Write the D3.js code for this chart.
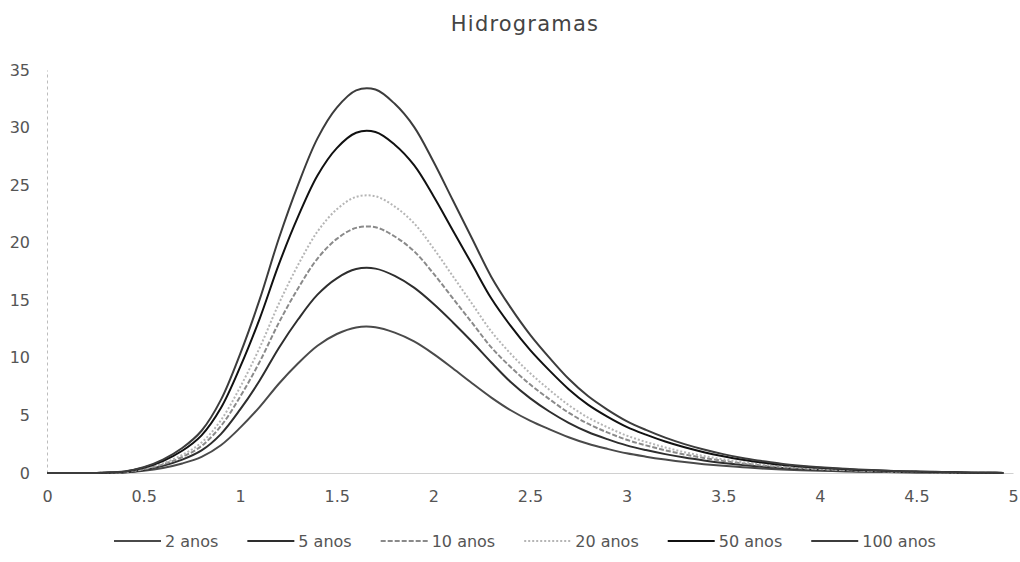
<!DOCTYPE html>
<html>
<head>
<meta charset="utf-8">
<script src="https://cdn.jsdelivr.net/npm/d3@7"></script>
<style>
  html, body { margin: 0; padding: 0; background: #fff; }
  svg { display: block; }
</style>
</head>
<body>
<svg id="chart" width="1020" height="562"></svg>
<script>
// ---- data ----
const titleText = "Hidrogramas";
const seriesNames = ["2 anos", "5 anos", "10 anos", "20 anos", "50 anos", "100 anos"];
const times = [0,0.1,0.2,0.3,0.4,0.5,0.6,0.7,0.8,0.9,1.0,1.1,1.2,1.3,1.4,1.5,1.6,1.7,1.8,1.9,
  2.0,2.1,2.2,2.3,2.4,2.5,2.6,2.7,2.8,2.9,3.0,3.1,3.2,3.3,3.4,3.5,3.6,3.7,3.8,3.9,
  4.0,4.1,4.2,4.3,4.4,4.5,4.6,4.7,4.8,4.9,4.95];
const q2 = [0,0,0,0.01,0.05,0.19,0.44,0.83,1.40,2.41,3.94,5.72,7.75,9.53,11.05,12.07,12.64,12.66,12.19,11.43,
  10.35,9.10,7.80,6.55,5.45,4.55,3.80,3.11,2.54,2.10,1.71,1.42,1.17,0.95,0.77,0.62,0.50,0.39,0.30,0.24,
  0.19,0.15,0.11,0.09,0.06,0.05,0.04,0.03,0.01,0.01,0.01];
const q5 = [0,0,0,0.02,0.07,0.27,0.62,1.16,1.96,3.38,5.52,8.01,10.86,13.35,15.49,16.91,17.71,17.75,17.12,16.10,
  14.70,13.10,11.40,9.60,7.90,6.50,5.34,4.36,3.56,2.94,2.40,1.99,1.64,1.34,1.09,0.87,0.69,0.55,0.43,0.34,
  0.27,0.21,0.16,0.12,0.09,0.07,0.05,0.04,0.02,0.02,0.01];
const q10 = [0,0,0,0.02,0.09,0.32,0.75,1.39,2.35,4.07,6.63,9.63,13.05,16.05,18.62,20.33,21.29,21.34,20.54,19.26,
  17.33,15.19,13.05,10.91,9.20,7.70,6.42,5.24,4.28,3.53,2.89,2.40,1.97,1.61,1.31,1.05,0.83,0.66,0.51,0.41,
  0.32,0.26,0.19,0.15,0.11,0.09,0.06,0.04,0.02,0.02,0.01];
const q20 = [0,0,0,0.02,0.10,0.36,0.84,1.57,2.65,4.58,7.47,10.85,14.70,18.08,20.97,22.90,23.98,24.03,23.14,21.69,
  19.52,17.11,14.70,12.29,10.36,8.68,7.23,5.90,4.82,3.98,3.25,2.70,2.22,1.81,1.47,1.18,0.94,0.75,0.58,0.46,
  0.36,0.29,0.22,0.17,0.12,0.10,0.07,0.05,0.02,0.02,0.01];
const q50 = [0,0,0,0.03,0.12,0.45,1.04,1.93,3.27,5.64,9.21,13.37,18.12,22.28,25.84,28.22,29.55,29.61,28.51,26.73,
  24.06,21.09,18.12,15.15,12.77,10.69,8.91,7.28,5.94,4.90,4.01,3.33,2.73,2.23,1.81,1.46,1.16,0.92,0.71,0.56,
  0.45,0.36,0.27,0.21,0.15,0.12,0.09,0.06,0.03,0.03,0.01];
const q100 = [0,0,0,0.03,0.13,0.50,1.17,2.17,3.67,6.35,10.35,15.03,20.37,25.05,29.06,31.73,33.23,33.30,32.06,30.06,
  27.05,23.71,20.37,17.03,14.36,12.02,10.02,8.18,6.68,5.51,4.51,3.74,3.07,2.51,2.04,1.64,1.30,1.04,0.80,0.63,
  0.50,0.40,0.30,0.23,0.17,0.13,0.10,0.07,0.03,0.03,0.01];
const seriesValues = [q2, q5, q10, q20, q50, q100];
const xTicks = [0, 0.5, 1, 1.5, 2, 2.5, 3, 3.5, 4, 4.5, 5];
const yTicks = [0, 5, 10, 15, 20, 25, 30, 35];

// ---- styles ----
const colors = ["#4a4a4a", "#2e2e2e", "#8a8a8a", "#b5b5b5", "#111111", "#3c3c3c"];
const dashes = [null, null, "5,2", "2,2", null, null];
const textColor = "#555";
const fontFam = "'DejaVu Sans', sans-serif";

const svg = d3.select("#chart");
const x = d3.scaleLinear().domain([0, 5]).range([47, 1013]);
const y = d3.scaleLinear().domain([0, 35]).range([473, 70]);

// title
svg.append("text")
  .attr("x", 525).attr("y", 31)
  .attr("text-anchor", "middle")
  .attr("font-family", fontFam)
  .attr("font-size", 21)
  .attr("letter-spacing", 1.2)
  .attr("fill", "#444")
  .text(titleText);

// axes
const yAxis = svg.append("g").attr("transform", `translate(${x(0)},0)`)
  .call(d3.axisLeft(y).tickValues(yTicks).tickSize(0).tickPadding(17).tickFormat(d3.format("")));
yAxis.select(".domain").attr("stroke", "#bdbdbd").attr("stroke-dasharray", "3,3");
yAxis.selectAll("text").attr("font-family", fontFam).attr("font-size", 16).attr("fill", textColor);

const xAxis = svg.append("g").attr("transform", `translate(0,${y(0)})`)
  .call(d3.axisBottom(x).tickValues(xTicks).tickSize(0).tickPadding(18).tickFormat(d3.format("")));
xAxis.select(".domain").attr("stroke", "#d0d0d0");
xAxis.selectAll("text").attr("font-family", fontFam).attr("font-size", 16).attr("fill", textColor);

// lines
const line = d3.line()
  .x((d, i) => x(times[i]))
  .y(d => y(Math.max(0, d)))
  .curve(d3.curveCatmullRom.alpha(0.5));

svg.append("g").selectAll("path")
  .data(seriesValues)
  .join("path")
  .attr("d", line)
  .attr("fill", "none")
  .attr("stroke", (d, i) => colors[i])
  .attr("stroke-width", 2)
  .attr("stroke-dasharray", (d, i) => dashes[i])
  .attr("stroke-linejoin", "round");

// legend
const legend = svg.append("g").attr("transform", "translate(0,541)");
let lx = 114;
seriesNames.forEach((name, i) => {
  const g = legend.append("g").attr("transform", `translate(${lx},0)`);
  g.append("line").attr("x1", 0).attr("x2", 47).attr("y1", 0).attr("y2", 0)
    .attr("stroke", colors[i]).attr("stroke-width", 2)
    .attr("stroke-dasharray", dashes[i]);
  const t = g.append("text").attr("x", 51).attr("y", 0).attr("dy", "0.35em")
    .attr("font-family", fontFam).attr("font-size", 16).attr("fill", textColor)
    .text(name);
  lx += 51 + t.node().getComputedTextLength() + 29;
});
</script>
</body>
</html>
